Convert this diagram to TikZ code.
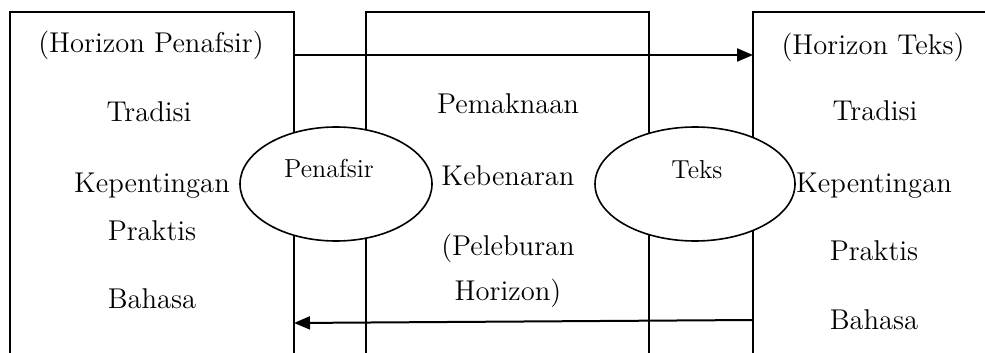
\documentclass[tikz,border=0pt]{standalone}
\usetikzlibrary{arrows.meta,shapes.geometric}
\begin{document}
\begin{tikzpicture}[x=0.5pt,y=-0.5pt,
  frame/.style={line width=1pt},
  bubble/.style={draw,ellipse,fill=white,line width=0.8pt,inner sep=0pt},
  label/.style={font=\fontsize{14.3}{17}\selectfont,anchor=base,inner sep=0pt},
  small/.style={font=\fontsize{13}{15}\selectfont,anchor=base,inner sep=0pt},
  flow/.style={line width=1pt,-{Triangle[length=8pt,width=6.5pt]}}]
  \useasboundingbox (0,0) rectangle (985,353);

  % three open-bottomed frames
  \draw[frame] (10,353) -- (10,12) -- (294,12) -- (294,353);
  \draw[frame] (366,353) -- (366,12) -- (649,12) -- (649,353);
  \draw[frame] (753,353) -- (753,12) -- (985,12);

  % arrow end points on the frames
  \coordinate (lefttop) at (294,55);
  \coordinate (righttop) at (753,55);
  \coordinate (rightbot) at (753,320);
  \coordinate (leftbot) at (294,323);
  \draw[flow] (lefttop) -- (righttop);
  \draw[flow] (rightbot) -- (leftbot);

  % ellipses sitting over the frame lines
  \node[bubble,minimum width=96pt,minimum height=57pt] (penafsir) at (336,184) {};
  \node[bubble,minimum width=100pt,minimum height=57pt] (teks) at (695,184) {};
  \node[small] (penafsirlbl) at (329,177) {Penafsir};
  \node[small] (tekslbl) at (697,178) {Teks};

  % left column
  \node[label] (hp) at (151,53) {(Horizon Penafsir)};
  \node[label] (tl) at (149,122) {Tradisi};
  \node[label] (kl) at (152,192) {Kepentingan};
  \node[label] (pl) at (152,240) {Praktis};
  \node[label] (bl) at (152,308) {Bahasa};

  % middle column
  \node[label] (pm) at (508,113) {Pemaknaan};
  \node[label] (kb) at (508,185) {Kebenaran};
  \node[label] (pb) at (508,255) {(Peleburan};
  \node[label] (hz) at (508,300) {Horizon)};

  % right column
  \node[label] (ht) at (873,55) {(Horizon Teks)};
  \node[label] (tr) at (875,120) {Tradisi};
  \node[label] (kr) at (874,192) {Kepentingan};
  \node[label] (pr) at (874,260) {Praktis};
  \node[label] (br) at (874,329) {Bahasa};
\end{tikzpicture}
\end{document}
